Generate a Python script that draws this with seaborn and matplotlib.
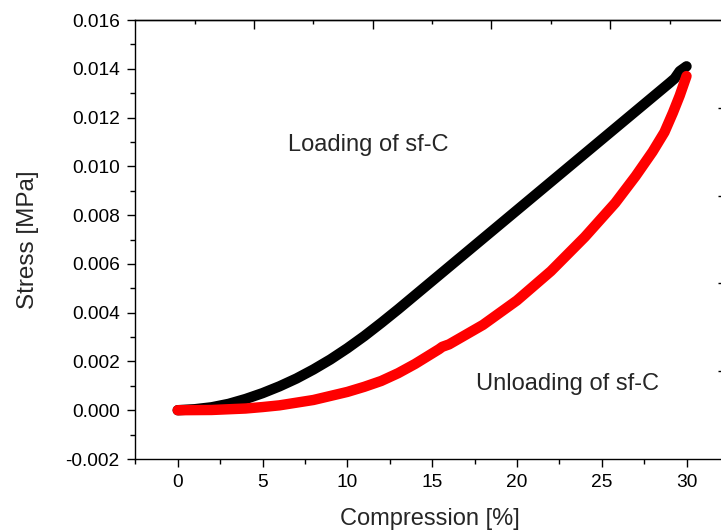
import numpy as np
import pandas as pd
import matplotlib
matplotlib.use("Agg")
import matplotlib.pyplot as plt
from matplotlib.ticker import MultipleLocator, FixedLocator, NullFormatter, FormatStrFormatter
import seaborn as sns

# Data
load_x = [0, 1, 2, 3, 4, 5, 6, 7, 8, 9, 10, 11, 12, 13, 14, 15, 17.5, 20, 22.5, 25, 27.5, 29.0, 29.3, 29.6, 30]
load_y = [0, 0.00004, 0.00012, 0.00026, 0.00046, 0.0007, 0.00098, 0.0013, 0.00167, 0.00208, 0.00254,
          0.00304, 0.00358, 0.00414, 0.00472, 0.0053, 0.00675, 0.0082, 0.00965, 0.0111, 0.01255,
          0.01342, 0.0136, 0.0139, 0.0141]
unload_x = [0, 2, 4, 5, 6, 8, 10, 11, 12, 13, 14, 15.4, 15.6, 16, 18, 20, 22, 24, 25.8, 27, 28,
            28.7, 29.2, 29.6, 30]
unload_y = [0, 0.00001, 0.00007, 0.00013, 0.0002, 0.00042, 0.00075, 0.00096, 0.0012, 0.00152, 0.0019,
            0.0025, 0.0026, 0.0027, 0.0035, 0.0045, 0.0057, 0.0071, 0.0085, 0.0096, 0.0106, 0.0114,
            0.0122, 0.0129, 0.0137]

xlabel = "Compression [%]"
ylabel = "Stress [MPa]"
text_loading = "Loading of sf-C"
text_unloading = "Unloading of sf-C"

sns.set_style("ticks")
plt.rcParams['font.family'] = ['Liberation Sans', 'DejaVu Sans']

W, H = 721, 531
fig = plt.figure(figsize=(W / 100, H / 100), dpi=100)
L, R, T, B = 135, 725, 20, 459
ax = fig.add_axes([L / W, 1 - B / H, (R - L) / W, (B - T) / H])

df_load = pd.DataFrame({"x": load_x, "y": load_y})
df_unload = pd.DataFrame({"x": unload_x, "y": unload_y})

sns.lineplot(data=df_load, x="x", y="y", ax=ax, color="black", linewidth=7.5,
             solid_capstyle="round", solid_joinstyle="round", sort=False)
sns.lineplot(data=df_unload, x="x", y="y", ax=ax, color="#ff0000", linewidth=7.5,
             solid_capstyle="round", solid_joinstyle="round", sort=False)

ax.set_xlim(-2.52, 32.27)
ax.set_ylim(-0.002, 0.016)

ax.xaxis.set_major_locator(MultipleLocator(5))
ax.xaxis.set_minor_locator(MultipleLocator(2.5))
ax.yaxis.set_major_locator(MultipleLocator(0.002))
ax.yaxis.set_minor_locator(MultipleLocator(0.001))
ax.yaxis.set_major_formatter(FormatStrFormatter("%.3f"))

ax.tick_params(axis="both", which="major", direction="out", length=6, width=1.0,
               labelsize=13.8, color="black", labelcolor="black", pad=5)
ax.tick_params(axis="both", which="minor", direction="out", length=3.5, width=1.0, color="black")
ax.tick_params(top=False, right=False, which="both")

for s in ax.spines.values():
    s.set_linewidth(1.0)
    s.set_color("black")

# top axis ticks (inward, own positions)
top = ax.secondary_xaxis("top")
top.xaxis.set_major_locator(FixedLocator([4.5, 11.5, 18.5, 25.5]))
top.xaxis.set_minor_locator(FixedLocator([1, 8, 15, 22, 29]))
top.xaxis.set_major_formatter(NullFormatter())
top.tick_params(which="major", direction="in", length=6.5, width=1.0, color="black")
top.tick_params(which="minor", direction="in", length=3, width=1.0, color="black")
top.spines["top"].set_linewidth(1.0)

# right axis ticks (inward)
right = ax.secondary_yaxis("right")
right.yaxis.set_major_locator(FixedLocator([0.0016, 0.0052, 0.0088, 0.0124]))
right.yaxis.set_major_formatter(NullFormatter())
right.tick_params(which="major", direction="in", length=5, width=1.0, color="black")

ax.set_xlabel(xlabel, fontsize=17, labelpad=12)
ax.set_ylabel(ylabel, fontsize=17.5, labelpad=19)

ax.text(6.5, 0.01087, text_loading, fontsize=17, va="center", ha="left")
ax.text(17.6, 0.00108, text_unloading, fontsize=17, va="center", ha="left")

fig.savefig("out.png", dpi=100)
